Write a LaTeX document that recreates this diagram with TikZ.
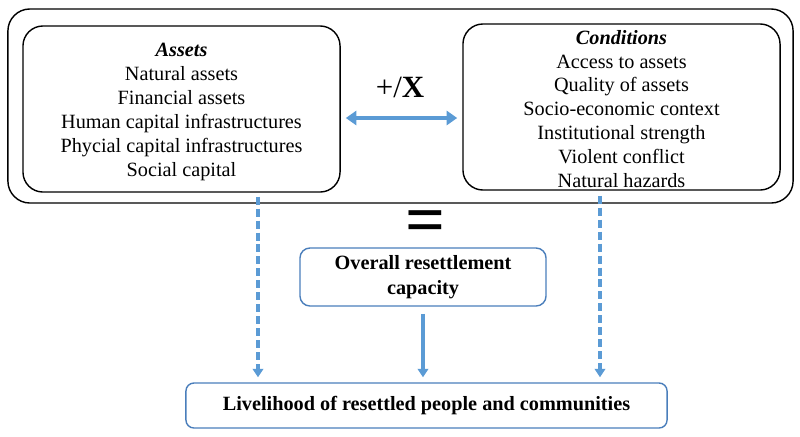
\documentclass[tikz,border=0pt]{standalone}
\usepackage{fontspec}
\setmainfont{Liberation Serif}
\usetikzlibrary{arrows.meta,positioning}
\definecolor{arrowblue}{RGB}{91,155,213}
\definecolor{boxblue}{RGB}{74,126,187}

\begin{document}
\begin{tikzpicture}[x=0.025cm,y=-0.025cm,
  blackbox/.style={draw=black, line width=1pt, inner sep=0pt},
  listtext/.style={align=center, inner sep=0pt, font=\fontsize{14.4}{17}\selectfont},
  bluebox/.style={draw=boxblue, line width=1pt, align=center, inner sep=0pt, font=\fontsize{14.4}{17.5}\selectfont\bfseries},
  bluearrow/.style={draw=arrowblue, line width=2.5pt, -{Triangle[length=6pt,width=7.5pt]}},
  dasharrow/.style={bluearrow, dash pattern=on 5.7pt off 2.8pt}]
\useasboundingbox (0,0) rectangle (800,436);
% Boxes and texts:
\node[blackbox, rounded corners=0.55cm, minimum width=19.625cm, minimum height=4.85cm](outer) at (400.5,106){};
\node[blackbox, rounded corners=0.5cm, minimum width=7.925cm, minimum height=4.15cm](assets) at (181.5,109){};
\node[listtext](assetstext) at ([yshift=-2.1pt]assets.center){\textbf{\textit{Assets}}\\Natural assets\\Financial assets\\Human capital infrastructures\\Phycial capital infrastructures\\Social capital};
\node[blackbox, rounded corners=0.5cm, minimum width=7.925cm, minimum height=4.15cm](cond) at (621.5,107){};
\node[listtext](condtext) at ([yshift=-1.4pt]cond.center){\textbf{\textit{Conditions}}\\Access to assets\\Quality of assets\\Socio-economic context\\Institutional strength\\Violent conflict\\Natural hazards};
\node[font=\fontsize{22}{22}\selectfont](op) at (400,87){+/\textbf{X}};
\node[font=\fontsize{50}{50}\selectfont\bfseries](eq) at (426,227){=};
\node[bluebox, rounded corners=0.25cm, minimum width=6.15cm, minimum height=1.45cm](overall) at (423,277){Overall resettlement\\capacity};
\node[bluebox, rounded corners=0.2cm, minimum width=12.025cm, minimum height=1.125cm](live) at (426.5,405.5){Livelihood of resettled people and communities};
% Arrows:
\coordinate (ya) at (0,118);
\coordinate (xl) at (258,0);
\coordinate (xr) at (600,0);
\draw[bluearrow, {Triangle[length=7.5pt,width=10pt]}-{Triangle[length=7.5pt,width=10pt]}, shorten <=3.6pt, shorten >=3.6pt] (assets.east |- ya) -- (cond.west |- ya);
\draw[dasharrow, shorten <=2.8pt, shorten >=3.6pt] (assets.south -| xl) -- (live.north -| xl);
\draw[dasharrow, shorten <=3.6pt, shorten >=3.6pt] (cond.south -| xr) -- (live.north -| xr);
\draw[bluearrow, shorten <=5pt, shorten >=3.6pt] (overall.south) -- (live.north -| overall.south);
\end{tikzpicture}
\end{document}
